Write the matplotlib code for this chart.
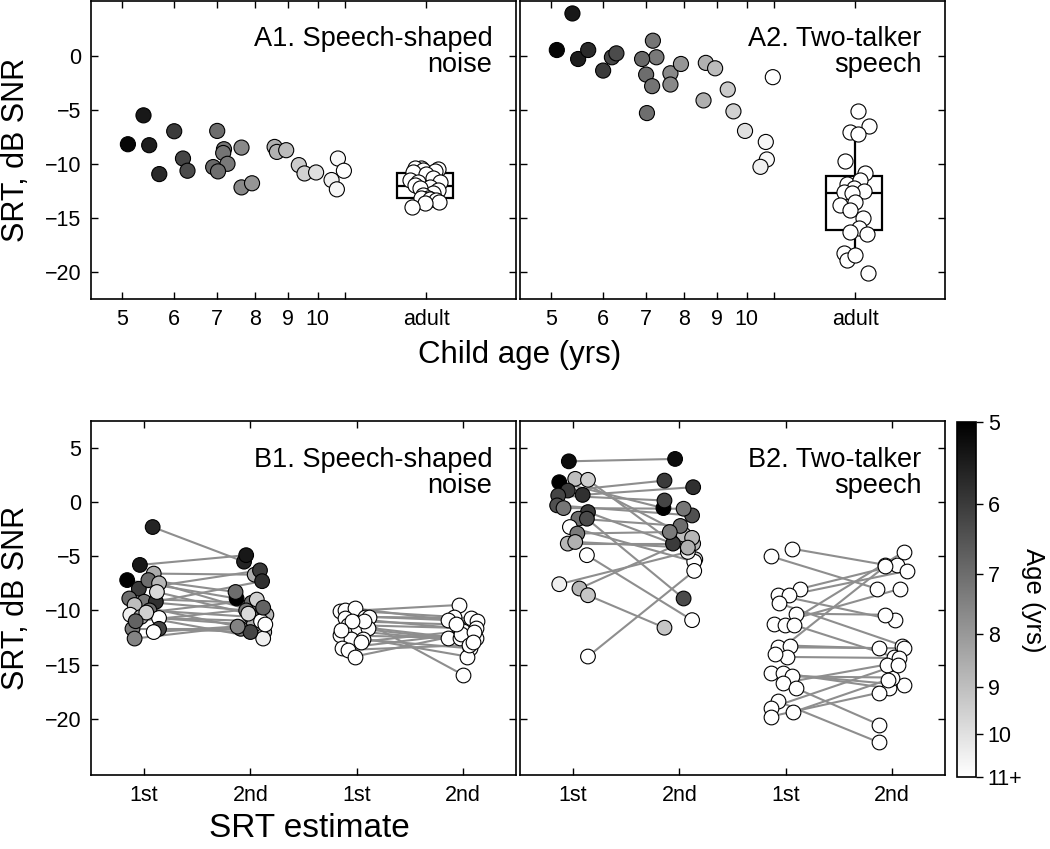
import numpy as np
import matplotlib
matplotlib.use('Agg')
import matplotlib.pyplot as plt
from matplotlib.colors import LogNorm
from matplotlib.cm import ScalarMappable
from matplotlib.ticker import NullLocator

plt.rcParams['font.family'] = ['Liberation Sans', 'DejaVu Sans']

## top row: one point per child, shared ages for both maskers
CHILD_AGE = [5.10, 5.39, 5.50, 5.70, 6.01, 6.20, 6.30, 7.00, 7.17, 7.15, 7.26, 6.90, 7.02,
             7.63, 7.63, 7.92, 8.58, 8.65, 8.94, 9.35, 9.54, 9.94, 10.74, 10.97, 10.50, 10.70]
A1_CHILD_SRT = [-8.19, -5.52, -8.28, -10.95, -6.99, -9.51, -10.64, -6.96, -8.65, -9.0, -10.0, -10.3, -10.7,
                -8.5, -12.18, -11.8, -8.44, -8.9, -8.74, -10.12, -10.89, -10.8, -9.51, -10.64, -11.5, -12.36]
A2_CHILD_SRT = [0.52, 3.9, -0.31, 0.52, -1.38, -0.15, 0.21, -1.75, 1.38, -2.82, -0.15, -0.31, -5.31,
                -1.63, -2.67, -0.77, -4.14, -0.67, -1.17, -3.13, -5.15, -6.96, -9.6, -1.99, -10.28, -7.98]

A1_ADULT_SRT = [-10.37, -10.43, -10.5, -10.58, -10.64, -10.75, -10.9, -11.3, -11.5, -11.66, -11.66, -11.96,
                -12.1, -12.27, -12.42, -12.73, -12.9, -13.19, -13.2, -13.28, -13.34, -13.5, -13.6, -13.96]
A1_ADULT_JIT = [-0.018, -0.041, 0.040, -0.012, 0.030, -0.047, 0.000, 0.024, -0.059, -0.030, 0.047, -0.041,
                0.012, -0.024, 0.041, 0.024, -0.012, 0.006, -0.018, 0.012, 0.035, 0.045, -0.006, -0.050]
A2_ADULT_SRT = [-5.12, -6.53, -7.06, -7.27, -9.72, -10.83, -11.87, -11.5, -12.27, -12.58, -12.48, -12.67,
                -13.5, -13.8, -14.26, -15.03, -15.95, -16.32, -16.5, -18.25, -18.93, -18.47, -20.09]
A2_ADULT_JIT = [0.009, 0.047, -0.018, 0.009, -0.038, 0.035, -0.030, 0.018, -0.006, -0.041, 0.030, -0.012,
                -0.002, -0.053, -0.020, 0.027, 0.012, -0.020, 0.041, -0.041, -0.030, 0.000, 0.045]

ADULT_X = 14.7
TOP_TICKS = [5, 6, 7, 8, 9, 10, 11, ADULT_X]
TOP_LABELS = ['5', '6', '7', '8', '9', '10', '', 'adult']

## bottom row: 1st and 2nd estimate per listener
B1_CHILD_AGE = [5.6, 5.4, 5.0, 8.5, 6.0, 7.0, 8.8, 7.0, 7.2, 5.8, 9.0, 7.0, 10.5, 8.5, 11.0, 7.3, 6.2, 11.0, 7.5, 9.5, 6.8, 9.8]
B1_CHILD_1ST = [-2.3, -5.8, -7.2, -6.6, -8.0, -7.2, -7.5, -8.9, -9.2, -9.2, -9.5, -10.0, -10.4, -10.6, -10.7,
                -11.7, -11.7, -12.0, -12.6, -10.2, -11.0, -8.3]
B1_CHILD_2ND = [-5.5, -4.9, -8.9, -6.7, -6.3, -8.3, -10.4, -9.3, -10.0, -7.3, -12.0, -10.6, -12.6, -11.35, -11.0,
                -11.7, -12.0, -11.3, -11.5, -9.0, -9.75, -10.3]
B1_CHILD_JIT1 = [0.08, -0.04, -0.16, 0.09, -0.05, 0.04, 0.14, -0.14, 0.00, 0.11, -0.09, 0.05, -0.13, -0.03, 0.14,
                 -0.11, 0.14, 0.09, -0.09, 0.02, -0.08, 0.12]
B1_CHILD_JIT2 = [-0.06, -0.04, -0.13, 0.04, 0.09, -0.14, 0.15, 0.01, -0.04, 0.11, 0.13, 0.01, 0.12, 0.03, 0.10,
                 -0.09, 0.00, 0.14, -0.12, 0.06, 0.12, -0.02]

B1_ADULT_1ST = [-10.1, -10.0, -9.8, -10.6, -10.6, -10.7, -11.35, -11.66, -11.6, -12.3, -12.6, -12.6, -12.9,
                -13.5, -13.65, -14.26, -11.0, -11.0, -11.8]
B1_ADULT_2ND = [-9.5, -10.6, -10.9, -10.7, -11.0, -11.66, -11.66, -12.58, -12.58, -12.58, -13.5, -14.26, -11.9,
                -12.2, -13.2, -12.0, -15.95, -11.3, -12.9]
B1_ADULT_JIT1 = [-0.16, -0.11, -0.02, 0.08, 0.12, -0.11, -0.08, 0.01, 0.11, -0.16, -0.05, 0.06, 0.04,
                 -0.14, -0.08, -0.02, 0.07, -0.04, -0.15]
B1_ADULT_JIT2 = [-0.04, -0.08, -0.14, 0.08, 0.13, -0.04, 0.12, -0.14, -0.03, 0.12, 0.07, 0.04, 0.00,
                 -0.02, 0.06, 0.10, 0.00, -0.07, 0.09]

B2_CHILD_AGE = [5.2, 5.0, 9.0, 9.5, 6.0, 5.8, 6.2, 6.4, 7.2, 6.0, 7.0, 11.0, 7.3, 8.8, 11.0, 10.5, 8.8, 9.2, 11.0, 6.3, 8.6]
B2_CHILD_1ST = [3.77, 1.84, 2.15, 2.06, 1.07, 0.67, 0.61, -0.3, -0.55, -0.92, -1.53, -2.3, -2.9, -3.83, -4.9,
                -7.58, -7.98, -8.6, -14.26, -1.53, -3.68]
B2_CHILD_2ND = [3.99, -0.55, -3.0, -5.28, 1.99, 1.38, 0.15, -1.23, -0.61, -3.83, -2.2, -5.5, -2.76, -3.83, -10.9,
                -4.6, -3.3, -11.6, -6.35, -8.9, -4.2]
B2_CHILD_JIT1 = [-0.04, -0.13, 0.02, 0.14, -0.05, 0.09, -0.14, -0.15, -0.09, 0.14, 0.05, -0.03, 0.04, -0.05,
                 0.13, -0.13, 0.06, 0.14, 0.14, 0.13, 0.02]
B2_CHILD_JIT2 = [-0.04, -0.15, 0.04, 0.15, -0.14, 0.13, -0.14, 0.12, 0.04, -0.06, 0.01, 0.14, -0.09, 0.13,
                 0.12, 0.08, 0.12, -0.14, 0.14, 0.04, 0.08]

B2_ADULT_1ST = [-4.3, -5.0, -8.0, -8.6, -8.6, -9.35, -10.3, -11.3, -11.35, -11.35, -13.4, -13.25, -14.3,
                -15.8, -15.8, -16.1, -16.7, -17.2, -18.4, -19.0, -19.8, -19.4, -14.0]
B2_ADULT_2ND = [-5.8, -8.0, -5.8, -10.9, -6.35, -13.25, -10.4, -8.0, -4.6, -14.3, -13.5, -13.5, -14.4,
                -16.9, -17.2, -16.2, -15.0, -20.55, -22.2, -15.0, -17.6, -16.4, -5.9]
B2_ADULT_JIT1 = [0.06, -0.14, 0.14, -0.07, 0.03, -0.06, 0.10, -0.11, -0.01, 0.08, -0.07, 0.04, 0.01,
                 -0.14, -0.02, 0.06, -0.02, 0.10, -0.07, -0.14, -0.14, 0.07, -0.10]
B2_ADULT_JIT2 = [-0.06, -0.14, 0.05, 0.03, 0.14, 0.10, -0.06, 0.08, 0.11, 0.02, 0.11, -0.12, 0.07,
                 0.11, -0.03, 0.00, -0.05, -0.12, -0.12, 0.06, -0.12, -0.04, -0.06]

BOTTOM_LABELS = ['1st', '2nd', '1st', '2nd']

norm = LogNorm(5, 11)
cmap = plt.get_cmap('gray')
LINE_GRAY = '#8e8e8e'


def style(ax):
	ax.tick_params(direction='in', top=True, right=True, length=5, width=1, labelsize=15.5, pad=7)
	for s in ax.spines.values():
		s.set_linewidth(1.2)


def top_panel(ax, child_srt, adult_srt, adult_jit, title, left):
	ax.set_xscale('log')
	ax.boxplot(adult_srt, positions=[ADULT_X], widths=2.9, whis=(10, 90), showfliers=False,
	           showcaps=False, patch_artist=True, manage_ticks=False,
	           boxprops=dict(facecolor='white', edgecolor='black', linewidth=1.6),
	           medianprops=dict(color='black', linewidth=1.6),
	           whiskerprops=dict(color='black', linewidth=1.6), zorder=2)
	ax.scatter(CHILD_AGE, child_srt, c=CHILD_AGE, cmap=cmap, norm=norm, s=118,
	           edgecolors='black', linewidths=0.8, zorder=3)
	ax.scatter(ADULT_X * np.exp(adult_jit), adult_srt, c='white', s=118,
	           edgecolors='black', linewidths=0.8, zorder=3)
	ax.set_xlim(4.475, 20.2)
	ax.set_ylim(-22.5, 5.05)
	ax.set_xticks(TOP_TICKS)
	ax.set_xticklabels(TOP_LABELS)
	ax.xaxis.set_minor_locator(NullLocator())
	ax.set_yticks([-20, -15, -10, -5, 0])
	style(ax)
	if not left:
		ax.set_yticklabels([])
	ax.text(0.944, 0.915, title, transform=ax.transAxes, ha='right', va='top',
	        fontsize=19.5, linespacing=0.98)


def pairs(ax, x1, x2, age, y1, y2, j1, j2):
	for k in range(len(y1)):
		ax.plot([x1 + j1[k], x2 + j2[k]], [y1[k], y2[k]], color=LINE_GRAY, lw=1.5, zorder=1)
	xs = np.concatenate([x1 + np.array(j1), x2 + np.array(j2)])
	ys = np.concatenate([y1, y2])
	if age is None:
		ax.scatter(xs, ys, c='white', s=112, edgecolors='black', linewidths=0.8, zorder=3)
	else:
		ages = np.concatenate([age, age])
		ax.scatter(xs, ys, c=ages, cmap=cmap, norm=norm, s=112, edgecolors='black',
		           linewidths=0.8, zorder=3)


def bottom_panel(ax, c_age, c1, c2, cj1, cj2, a1, a2, aj1, aj2, title, left):
	pairs(ax, 1, 2, c_age, c1, c2, cj1, cj2)
	pairs(ax, 3, 4, None, a1, a2, aj1, aj2)
	ax.set_xlim(0.5, 4.5)
	ax.set_ylim(-25.2, 7.5)
	ax.set_xticks([1, 2, 3, 4])
	ax.set_xticklabels(BOTTOM_LABELS)
	ax.set_yticks([-20, -15, -10, -5, 0, 5])
	style(ax)
	if not left:
		ax.set_yticklabels([])
	ax.text(0.944, 0.925, title, transform=ax.transAxes, ha='right', va='top',
	        fontsize=19.5, linespacing=0.98)


fig = plt.figure(figsize=(10.5, 8.49), dpi=100)
axA1 = fig.add_axes([0.0867, 0.6478, 0.4048, 0.351])
axA2 = fig.add_axes([0.4952, 0.6478, 0.4048, 0.351])
axB1 = fig.add_axes([0.0867, 0.0872, 0.4048, 0.417])
axB2 = fig.add_axes([0.4952, 0.0872, 0.4048, 0.417])

top_panel(axA1, A1_CHILD_SRT, A1_ADULT_SRT, A1_ADULT_JIT, 'A1. Speech-shaped\nnoise', True)
top_panel(axA2, A2_CHILD_SRT, A2_ADULT_SRT, A2_ADULT_JIT, 'A2. Two-talker\nspeech', False)
bottom_panel(axB1, B1_CHILD_AGE, B1_CHILD_1ST, B1_CHILD_2ND, B1_CHILD_JIT1, B1_CHILD_JIT2,
             B1_ADULT_1ST, B1_ADULT_2ND, B1_ADULT_JIT1, B1_ADULT_JIT2, 'B1. Speech-shaped\nnoise', True)
bottom_panel(axB2, B2_CHILD_AGE, B2_CHILD_1ST, B2_CHILD_2ND, B2_CHILD_JIT1, B2_CHILD_JIT2,
             B2_ADULT_1ST, B2_ADULT_2ND, B2_ADULT_JIT1, B2_ADULT_JIT2, 'B2. Two-talker\nspeech', False)

axA1.set_ylabel('SRT, dB SNR', fontsize=22, labelpad=10)
axB1.set_ylabel('SRT, dB SNR', fontsize=22, labelpad=10)
fig.text(0.495, 0.582, 'Child age (yrs)', ha='center', va='center', fontsize=22.5)
fig.text(0.295, 0.024, 'SRT estimate', ha='center', va='center', fontsize=24)

## colorbar, 5 at top (black) down to 11+ (white)
cax = fig.add_axes([0.9114, 0.0848, 0.0181, 0.418])
cb = fig.colorbar(ScalarMappable(norm=norm, cmap=cmap), cax=cax)
cb.set_ticks([5, 6, 7, 8, 9, 10, 11])
cb.set_ticklabels(['5', '6', '7', '8', '9', '10', '11+'])
cax.yaxis.set_minor_locator(NullLocator())
cax.invert_yaxis()
cb.outline.set_linewidth(1.2)
cax.tick_params(length=5, width=1, labelsize=15.5, direction='out')
fig.text(0.984, 0.293, 'Age (yrs)', rotation=270, ha='center', va='center', fontsize=18.5)

fig.savefig('out.png', dpi=100)
